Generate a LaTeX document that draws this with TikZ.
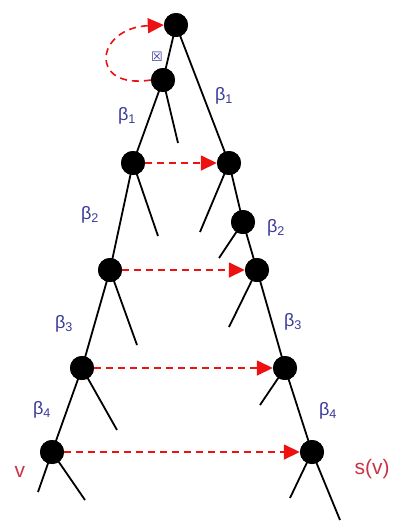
\documentclass[tikz,border=0pt]{standalone}
\usepackage{fontspec}
\setmainfont{Liberation Sans}
\newfontfamily\symfont{DejaVu Sans}
\usetikzlibrary{arrows.meta}
\definecolor{lblblue}{HTML}{3A3A9A}
\definecolor{arrred}{HTML}{EE1111}
\definecolor{txtred}{HTML}{CC3344}
\tikzset{
  dot/.style={circle,fill=black,minimum size=24pt,inner sep=0pt},
  edge/.style={line width=1.8pt,black},
  jump/.style={dashed,dash pattern=on 7pt off 5pt,line width=1.6pt,arrred,
    -{Triangle[length=16pt,width=15pt]}},
  lbl/.style={text=lblblue,font=\fontsize{18}{18}\selectfont},
  vlbl/.style={text=txtred,font=\fontsize{21}{21}\selectfont}
}
\begin{document}
\begin{tikzpicture}[x=1pt,y=-1pt]
\useasboundingbox[fill=white] (0,0) rectangle (405,523);
% nodes
\node[dot] (R) at (176,25) {};
\node[dot] (A1) at (163,80) {};
\node[dot] (L1) at (133,163) {};
\node[dot] (L2) at (110,270) {};
\node[dot] (L3) at (82,368) {};
\node[dot] (L4) at (52,452) {};
\node[dot] (B1) at (229,163) {};
\node[dot] (B2a) at (243,222) {};
\node[dot] (B2) at (257,270) {};
\node[dot] (B3) at (285,368) {};
\node[dot] (B4) at (312,452) {};
% stub ends
\coordinate (sA1) at (178,143);
\coordinate (sL1) at (158,236);
\coordinate (sL2) at (137,345);
\coordinate (sL3) at (117,430);
\coordinate (sL4a) at (38,492);
\coordinate (sL4b) at (85,500);
\coordinate (sB1) at (200,232);
\coordinate (sB2a) at (219,258);
\coordinate (sB2) at (229,327);
\coordinate (sB3) at (260,405);
\coordinate (sB4a) at (290,498);
\coordinate (sB4b) at (340,520);
% edges
\draw[edge] (R.center) -- (A1.center);
\draw[edge] (R.center) -- (B1.center);
\draw[edge] (A1.center) -- (L1.center);
\draw[edge] (A1.center) -- (sA1);
\draw[edge] (L1.center) -- (L2.center);
\draw[edge] (L1.center) -- (sL1);
\draw[edge] (L2.center) -- (L3.center);
\draw[edge] (L2.center) -- (sL2);
\draw[edge] (L3.center) -- (L4.center);
\draw[edge] (L3.center) -- (sL3);
\draw[edge] (L4.center) -- (sL4a);
\draw[edge] (L4.center) -- (sL4b);
\draw[edge] (B1.center) -- (B2a.center);
\draw[edge] (B1.center) -- (sB1);
\draw[edge] (B2a.center) -- (B2.center);
\draw[edge] (B2a.center) -- (sB2a);
\draw[edge] (B2.center) -- (B3.center);
\draw[edge] (B2.center) -- (sB2);
\draw[edge] (B3.center) -- (B4.center);
\draw[edge] (B3.center) -- (sB3);
\draw[edge] (B4.center) -- (sB4a);
\draw[edge] (B4.center) -- (sB4b);
% redraw dots on top
\foreach \n in {R,A1,L1,L2,L3,L4,B1,B2a,B2,B3,B4}
  \fill[black] (\n) circle (12pt);
% dashed arrows
\draw[jump] (A1.west) .. controls (88,90) and (95,28) .. (R.west);
\draw[jump] (L1.east) -- (B1.west);
\draw[jump] (L2.east) -- (B2.west);
\draw[jump] (L3.east) -- (B3.west);
\draw[jump] (L4.east) -- (B4.west);
% labels
\node[lbl] (t0) at (157,57) {\symfont\fontsize{13}{13}\selectfont ☒};
\node[lbl] (tl1) at (127,116) {β\textsubscript{1}};
\node[lbl] (tr1) at (224,96) {β\textsubscript{1}};
\node[lbl] (tl2) at (90,215) {β\textsubscript{2}};
\node[lbl] (tr2) at (276,228) {β\textsubscript{2}};
\node[lbl] (tl3) at (64,324) {β\textsubscript{3}};
\node[lbl] (tr3) at (293,322) {β\textsubscript{3}};
\node[lbl] (tl4) at (42,410) {β\textsubscript{4}};
\node[lbl] (tr4) at (328,411) {β\textsubscript{4}};
\node[vlbl] (v) at (20,472) {v};
\node[vlbl] (sv) at (372,469) {s(v)};
\end{tikzpicture}
\end{document}
